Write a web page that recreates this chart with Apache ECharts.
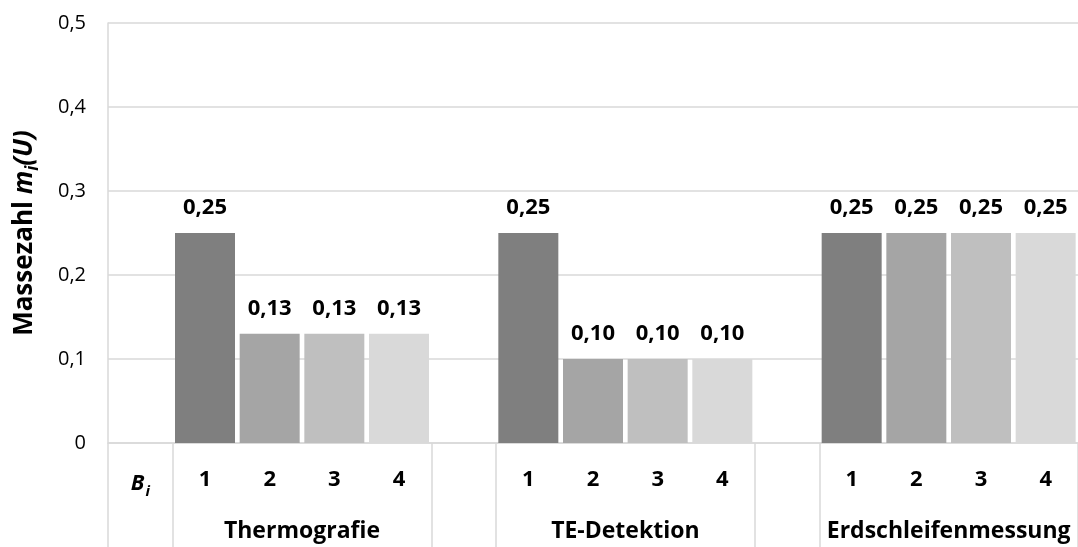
<!DOCTYPE html>
<html>
<head>
<meta charset="utf-8">
<script src="https://cdn.jsdelivr.net/npm/echarts@6/dist/echarts.min.js"></script>
<style>
  html, body { margin: 0; padding: 0; background: #fff; }
  #chart { width: 1078px; height: 547px; }
</style>
</head>
<body>
<div id="chart"></div>
<script>
// Measuring methods and their per-feature mass numbers m_i(U)
const groups = ['Thermografie', 'TE-Detektion', 'Erdschleifenmessung'];
const featureLabels = ['1', '2', '3', '4'];
const thermografie = [0.25, 0.13, 0.13, 0.13];
const teDetektion = [0.25, 0.10, 0.10, 0.10];
const erdschleifenmessung = [0.25, 0.25, 0.25, 0.25];
const yTicks = ['0', '0,1', '0,2', '0,3', '0,4', '0,5'];

const groupValues = [thermografie, teDetektion, erdschleifenmessung];
const shades = ['#7f7f7f', '#a5a5a5', '#bfbfbf', '#d9d9d9'];
const gridGray = '#d9d9d9';
const font = 'Open Sans';
const tickSize = 20;   // y tick labels
const small = 22;      // feature numbers, value labels
const large = 23;      // group names
const titleSize = 26;  // y axis name

// Category slots: a header slot "B_i", then each method's four features,
// separated by an empty slot.
const categories = ['Bi'];
const barData = [null];
groups.forEach((g, gi) => {
  if (gi > 0) { categories.push('gap' + gi); barData.push(null); }
  featureLabels.forEach((f, fi) => {
    categories.push(g + '|' + f);
    barData.push({ value: groupValues[gi][fi], itemStyle: { color: shades[fi] } });
  });
});

// Group name positions (centre of each four-slot block) and block boundaries
const groupCenters = {};
const boundaries = [0];
let pos = 1;
groups.forEach((g, gi) => {
  if (gi > 0) { boundaries.push(pos); pos += 1; }
  boundaries.push(pos);
  groupCenters[pos + featureLabels.length / 2] = g;
  pos += featureLabels.length;
});
boundaries.push(pos);

const chart = echarts.init(document.getElementById('chart'));
chart.setOption({
  animation: false,
  textStyle: { fontFamily: font },
  grid: { left: 108, right: -9, top: 23, bottom: 104, containLabel: false },
  xAxis: [
    {
      type: 'category',
      position: 'bottom',
      data: categories,
      axisLine: { show: true, lineStyle: { color: gridGray, width: 1.5 } },
      axisTick: { show: false },
      axisLabel: {
        interval: 0,
        margin: 26,
        fontFamily: font,
        fontSize: small,
        fontWeight: 'bold',
        color: '#000',
        formatter: (v) => {
          if (v === 'Bi') return '{b|B}{s|i}';
          if (v.indexOf('|') < 0) return '';
          return v.split('|')[1];
        },
        rich: {
          b: { fontFamily: font, fontSize: small, fontWeight: 'bold', fontStyle: 'italic', color: '#000', lineHeight: 26, verticalAlign: 'bottom' },
          s: { fontFamily: font, fontSize: 15, fontWeight: 'bold', fontStyle: 'italic', color: '#000', lineHeight: 26, verticalAlign: 'bottom', padding: [0, 0, -4, 1] }
        }
      }
    },
    {
      type: 'value',
      position: 'bottom',
      min: 0,
      max: categories.length,
      axisLine: { show: false },
      splitLine: { show: false },
      axisTick: {
        show: true,
        customValues: boundaries,
        length: 104,
        lineStyle: { color: gridGray, width: 1.5 }
      },
      axisLabel: {
        customValues: Object.keys(groupCenters).map(Number),
        margin: 77,
        fontFamily: font,
        fontSize: large,
        fontWeight: 'bold',
        color: '#000',
        formatter: (v) => groupCenters[v] || ''
      }
    }
  ],
  yAxis: {
    type: 'value',
    min: 0,
    max: 0.5,
    interval: 0.1,
    name: '{t|Massezahl }{m|m}{s|i}{m|(U)}',
    nameLocation: 'middle',
    nameGap: 70,
    nameTextStyle: {
      rich: {
        t: { fontFamily: font, fontSize: titleSize, fontWeight: 'bold', color: '#000', lineHeight: 30, verticalAlign: 'bottom' },
        m: { fontFamily: font, fontSize: titleSize, fontWeight: 'bold', fontStyle: 'italic', color: '#000', lineHeight: 30, verticalAlign: 'bottom' },
        s: { fontFamily: font, fontSize: 17, fontWeight: 'bold', fontStyle: 'italic', color: '#000', lineHeight: 30, verticalAlign: 'bottom', padding: [0, 0, -4, 0] }
      }
    },
    axisLine: { show: true, lineStyle: { color: gridGray, width: 1.5 } },
    axisTick: { show: false },
    splitLine: { show: true, lineStyle: { color: gridGray, width: 1.5 } },
    axisLabel: {
      margin: 22,
      fontFamily: font,
      fontSize: tickSize,
      color: '#000',
      formatter: (v) => yTicks[Math.round(v * 10)]
    }
  },
  series: [{
    type: 'bar',
    xAxisIndex: 0,
    data: barData,
    barWidth: 60,
    label: {
      show: true,
      position: 'top',
      distance: 14,
      fontFamily: font,
      fontSize: small,
      fontWeight: 'bold',
      color: '#000',
      formatter: (p) => p.value.toFixed(2).replace('.', ',')
    }
  }]
});
</script>
</body>
</html>
